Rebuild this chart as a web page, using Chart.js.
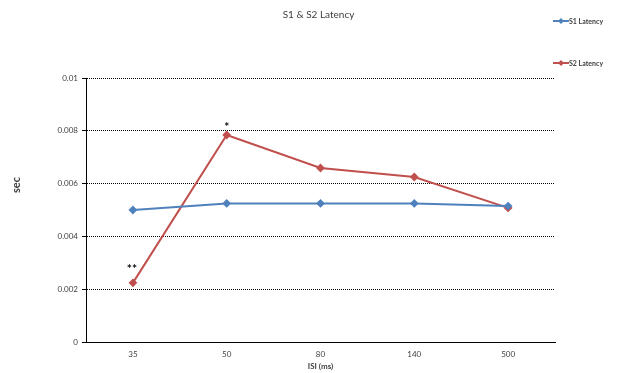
<!DOCTYPE html>
<html>
<head>
<meta charset="utf-8">
<script src="https://cdn.jsdelivr.net/npm/chart.js@4"></script>
<style>
  html, body { margin: 0; padding: 0; background: #fff; }
  #wrap { width: 622px; height: 373px; }
</style>
</head>
<body>
<div id="wrap"><canvas id="latencyChart" width="622" height="373"></canvas></div>
<script>
// Data
var isiLabels = ['35', '50', '80', '140', '500'];
var s1Latency = [0.0050, 0.00525, 0.00525, 0.00525, 0.00515];
var s2Latency = [0.00224, 0.00784, 0.00659, 0.00625, 0.00508];
var s2Marks = ['**', '*', '', '', ''];
var yTicks = [0, 0.002, 0.004, 0.006, 0.008, 0.01];

var FONT = 'Lato, "Open Sans", sans-serif';
var TEXT = '#404040';

// title, axis titles, legend and significance marks
var extras = {
    id: 'extras',
    afterDraw: function (chart) {
        var ctx = chart.ctx;
        var area = chart.chartArea;
        ctx.save();
        ctx.fillStyle = TEXT;
        ctx.textAlign = 'center';
        ctx.textBaseline = 'middle';

        ctx.font = '10px ' + FONT;
        ctx.fillText('S1 & S2 Latency', (area.left + area.right) / 2 - 2, 15);

        ctx.font = 'bold 8px ' + FONT;
        ctx.fillText('ISI (ms)', (area.left + area.right) / 2, 366);

        ctx.save();
        ctx.translate(16, 185);
        ctx.rotate(-Math.PI / 2);
        ctx.font = 'bold 11px ' + FONT;
        ctx.fillText('sec', 0, 0);
        ctx.restore();

        // asterisks above S2 points
        var meta = chart.getDatasetMeta(1);
        ctx.font = 'bold 12px ' + FONT;
        ctx.fillStyle = '#000';
        s2Marks.forEach(function (m, i) {
            if (!m) return;
            var pt = meta.data[i];
            ctx.fillText(m, pt.x - (i === 0 ? 1 : 0), pt.y - (i === 0 ? 14 : 8));
        });

        // legend
        var rows = [21, 63];
        ctx.font = 'bold 7px ' + FONT;
        ctx.textAlign = 'left';
        chart.data.datasets.forEach(function (ds, i) {
            var y = rows[i];
            ctx.strokeStyle = ds.borderColor;
            ctx.lineWidth = 2;
            ctx.beginPath();
            ctx.moveTo(553, y);
            ctx.lineTo(569, y);
            ctx.stroke();
            ctx.fillStyle = ds.borderColor;
            ctx.beginPath();
            ctx.moveTo(561, y - 3);
            ctx.lineTo(564, y);
            ctx.lineTo(561, y + 3);
            ctx.lineTo(558, y);
            ctx.closePath();
            ctx.fill();
            ctx.fillStyle = TEXT;
            ctx.fillText(ds.label, 569, y + 0.5);
        });
        ctx.restore();
    }
};

var data = {
    labels: isiLabels,
    datasets: [{
        label: 'S1 Latency',
        data: s1Latency,
        borderColor: '#4F81BD',
        backgroundColor: '#4F81BD',
        borderWidth: 2,
        pointStyle: 'rectRot',
        pointRadius: 3,
        tension: 0
    }, {
        label: 'S2 Latency',
        data: s2Latency,
        borderColor: '#C0504D',
        backgroundColor: '#C0504D',
        borderWidth: 2,
        pointStyle: 'rectRot',
        pointRadius: 3,
        tension: 0
    }]
};

var options = {
    responsive: false,
    animation: false,
    layout: {
        padding: { top: 78, right: 67, bottom: 0, left: 0 }
    },
    scales: {
        x: {
            type: 'category',
            offset: true,
            grid: { display: false },
            border: { display: true, color: '#000', width: 1 },
            ticks: { color: TEXT, font: { family: FONT, size: 8 }, padding: 0 },
            afterFit: function (scale) { scale.height = 31; }
        },
        y: {
            min: 0,
            max: 0.01,
            afterBuildTicks: function (scale) {
                scale.ticks = yTicks.map(function (v) { return { value: v }; });
            },
            grid: {
                color: '#000',
                lineWidth: 1,
                drawTicks: true,
                tickLength: 4,
                tickColor: '#000',
                tickBorderDash: []
            },
            border: { display: true, color: '#000', width: 1, dash: [1, 1] },
            ticks: {
                color: TEXT,
                font: { family: FONT, size: 8 },
                padding: 4,
                callback: function (v) { return String(Number(v.toFixed(3))); }
            },
            afterFit: function (scale) { scale.width = 86; }
        }
    },
    plugins: {
        legend: { display: false },
        tooltip: { enabled: false }
    }
};

var ctx = document.getElementById('latencyChart').getContext('2d');
var latencyChart = new Chart(ctx, {
    type: 'line',
    data: data,
    options: options,
    plugins: [extras]
});
</script>
</body>
</html>
